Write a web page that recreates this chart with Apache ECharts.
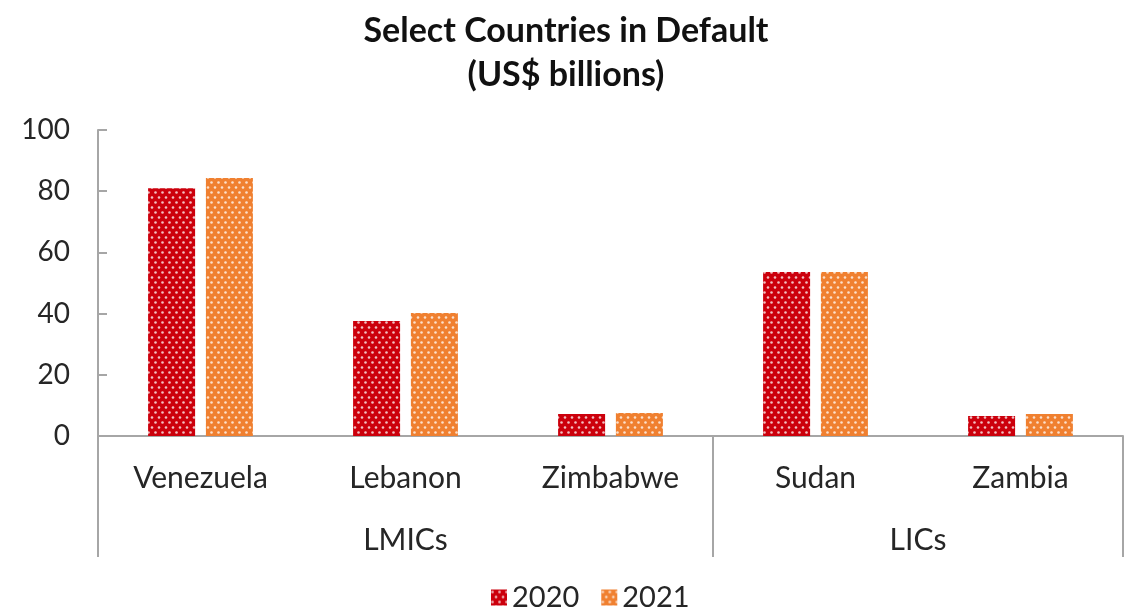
<!DOCTYPE html>
<html>
<head>
<meta charset="utf-8">
<title>Select Countries in Default</title>
<script src="https://cdn.jsdelivr.net/npm/echarts@6/dist/echarts.min.js"></script>
<style>
  html, body { margin: 0; padding: 0; background: #fff; }
  #chart { width: 1132px; height: 614px; }
</style>
</head>
<body>
<div id="chart"></div>
<script>
// Sovereign debt in default, US$ billions
const countries = ['Venezuela', 'Lebanon', 'Zimbabwe', 'Sudan', 'Zambia'];
const values2020 = [81.0, 37.6, 7.2, 53.6, 6.5];
const values2021 = [84.3, 40.2, 7.5, 53.6, 7.2];
const groupNames = ['LMICs', 'LICs'];
const groupSizes = [3, 2];
const yTicks = [0, 20, 40, 60, 80, 100];

const FONT = 'Lato, "Open Sans", sans-serif';

// Group boundaries and centres along the category axis (in category units)
const groupEdges = [0];
groupSizes.forEach(n => groupEdges.push(groupEdges[groupEdges.length - 1] + n));
const groupCentres = groupSizes.map((n, i) => groupEdges[i] + n / 2);

// Dotted fill: solid colour with a staggered grid of light dots
function dotPattern(base) {
  const c = document.createElement('canvas');
  c.width = 7; c.height = 10;
  const ctx = c.getContext('2d');
  ctx.fillStyle = base;
  ctx.fillRect(0, 0, 7, 10);
  ctx.fillStyle = 'rgba(255,255,255,0.75)';
  [[1.5, 2.5], [5, 7.5]].forEach(([x, y]) => {
    ctx.beginPath();
    ctx.arc(x, y, 1.3, 0, Math.PI * 2);
    ctx.fill();
  });
  return { image: c, repeat: 'repeat' };
}

const axisGrey = '#a6a6a6';
const textColor = '#262626';
const chart = echarts.init(document.getElementById('chart'), null, { renderer: 'canvas' });

chart.setOption({
  animation: false,
  backgroundColor: '#fff',
  title: {
    text: 'Select Countries in Default\n(US$ billions)',
    left: 'center',
    top: 4,
    textStyle: { fontFamily: FONT, fontWeight: 'bold', fontSize: 34, lineHeight: 44, color: '#111' }
  },
  legend: {
    bottom: -3,
    left: 486,
    itemWidth: 16,
    itemHeight: 16,
    itemGap: 22,
    icon: 'rect',
    textStyle: { fontFamily: FONT, fontSize: 29, color: textColor },
    data: ['2020', '2021']
  },
  grid: { left: 98, right: 9, top: 130, bottom: 178, containLabel: false },
  xAxis: [
    {
      type: 'category',
      data: countries,
      axisLine: { lineStyle: { color: axisGrey, width: 2 } },
      axisTick: { show: false },
      axisLabel: { fontFamily: FONT, fontSize: 30, color: textColor, margin: 27 }
    },
    {
      // Group level of the category axis with its separator lines
      type: 'value',
      position: 'bottom',
      min: 0,
      max: countries.length,
      axisLine: { show: false },
      splitLine: { show: false },
      axisTick: {
        show: true,
        customValues: groupEdges,
        length: 121,
        lineStyle: { color: axisGrey, width: 2 }
      },
      axisLabel: {
        customValues: groupCentres,
        formatter: v => groupNames[groupCentres.indexOf(v)] || '',
        fontFamily: FONT, fontSize: 30, color: textColor, margin: 89
      }
    }
  ],
  yAxis: {
    type: 'value',
    min: 0,
    max: 100,
    interval: 20,
    axisLine: { show: true, lineStyle: { color: axisGrey, width: 2 } },
    axisTick: { show: true, inside: true, length: 9, lineStyle: { color: axisGrey, width: 2 } },
    splitLine: { show: false },
    axisLabel: {
      fontFamily: FONT, fontSize: 28, color: textColor, margin: 28,
      formatter: v => (yTicks.includes(v) ? String(v) : '')
    }
  },
  series: [
    {
      name: '2020',
      type: 'bar',
      data: values2020,
      barWidth: 47,
      barGap: '23%',
      itemStyle: { color: dotPattern('#cc000c') }
    },
    {
      name: '2021',
      type: 'bar',
      data: values2021,
      barWidth: 47,
      itemStyle: { color: dotPattern('#f08030') }
    }
  ]
});
</script>
</body>
</html>
